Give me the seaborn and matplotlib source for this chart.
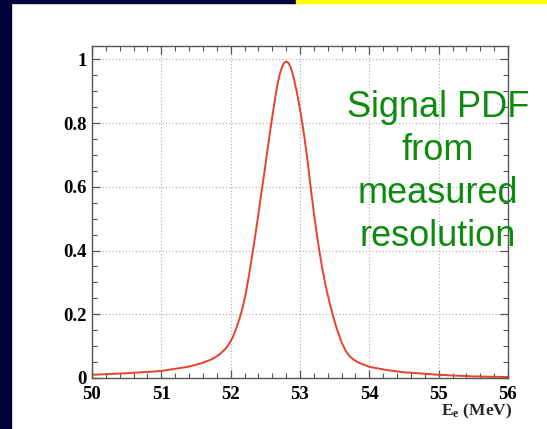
import matplotlib
matplotlib.use("Agg")
import matplotlib.pyplot as plt
from matplotlib.patches import Rectangle
from matplotlib.ticker import MultipleLocator
import seaborn as sns
import pandas as pd

# Signal PDF of the positron energy, normalised to its peak
energy_mev = [50.0, 50.5, 51.0, 51.38, 51.56, 51.72, 51.80, 51.87, 51.93, 51.98,
              52.03, 52.08, 52.14, 52.18, 52.22, 52.27, 52.31, 52.35, 52.38, 52.42,
              52.45, 52.49, 52.52, 52.56, 52.59, 52.62, 52.65, 52.68, 52.71, 52.74,
              52.77, 52.80, 52.83, 52.86, 52.89, 52.92, 52.95, 52.98, 53.01, 53.04,
              53.07, 53.11, 53.15, 53.18, 53.21, 53.25, 53.28, 53.32, 53.37, 53.42,
              53.47, 53.53, 53.60, 53.66, 53.72, 53.79, 53.87, 54.0, 54.25, 54.5,
              55.0, 55.5, 56.0]
pdf_value = [0.010, 0.015, 0.022, 0.035, 0.045, 0.058, 0.068, 0.080, 0.093, 0.108,
             0.128, 0.155, 0.195, 0.228, 0.268, 0.330, 0.385, 0.440, 0.485, 0.545,
             0.592, 0.650, 0.700, 0.760, 0.805, 0.848, 0.890, 0.926, 0.955, 0.976,
             0.989, 0.993, 0.990, 0.978, 0.958, 0.932, 0.902, 0.868, 0.830, 0.790,
             0.745, 0.680, 0.605, 0.553, 0.500, 0.440, 0.398, 0.345, 0.290, 0.242,
             0.200, 0.155, 0.112, 0.085, 0.067, 0.055, 0.046, 0.035, 0.025, 0.018,
             0.010, 0.005, 0.003]

x_ticks = [50, 51, 52, 53, 54, 55, 56]
x_tick_labels = ["50", "51", "52", "53", "54", "55", "56"]
y_ticks = [0, 0.2, 0.4, 0.6, 0.8, 1.0]
y_tick_labels = ["0", "0.2", "0.4", "0.6", "0.8", "1"]

note_text = "Signal PDF\nfrom\nmeasured\nresolution"
x_label = r"$\mathbf{E_e}$ (MeV)"

df = pd.DataFrame({"E": energy_mev, "pdf": pdf_value})

sns.set_theme(style="white")
plt.rcParams["font.family"] = ["Liberation Serif", "DejaVu Serif"]
plt.rcParams["mathtext.fontset"] = "custom"
plt.rcParams["mathtext.bf"] = "Liberation Serif:bold"
plt.rcParams["mathtext.rm"] = "Liberation Serif:bold"

fig = plt.figure(figsize=(5.47, 4.29), dpi=100, facecolor="white")

# slide frame: navy bars on the left and top, yellow accent at top right
navy = "#01013a"
fig.patches.append(Rectangle((0, 0), 11 / 547, 1, transform=fig.transFigure,
                             color=navy, zorder=0))
fig.patches.append(Rectangle((0, 1 - 3 / 429), 296 / 547, 3 / 429,
                             transform=fig.transFigure, color=navy, zorder=0))
fig.patches.append(Rectangle((296 / 547, 1 - 3 / 429), 1 - 296 / 547, 3 / 429,
                             transform=fig.transFigure, color="#ffff00", zorder=0))

ax = fig.add_axes([92 / 547, 1 - 378 / 429, 416 / 547, 332 / 429])
ax.set_facecolor("white")

sns.lineplot(data=df, x="E", y="pdf", ax=ax, color="#e8412c", linewidth=1.4)

ax.set_xlim(50, 56)
ax.set_ylim(0, 1.042)
ax.set_xticks(x_ticks)
ax.set_xticklabels(x_tick_labels)
ax.set_yticks(y_ticks)
ax.set_yticklabels(y_tick_labels)
ax.xaxis.set_minor_locator(MultipleLocator(0.2))
ax.yaxis.set_minor_locator(MultipleLocator(0.05))

ax.grid(True, which="major", color="#a8a8a8", linestyle=(0, (1, 2)), linewidth=0.8)

for side in ["left", "right", "top", "bottom"]:
    ax.spines[side].set_visible(True)
    ax.spines[side].set_color("#555555")
    ax.spines[side].set_linewidth(1.0)

ax.tick_params(which="both", direction="in", top=True, right=True,
               bottom=True, left=True, color="#555555")
ax.tick_params(which="major", length=6, width=0.9)
ax.tick_params(axis="y", which="major", pad=4)
ax.tick_params(axis="x", which="major", pad=5.5)
ax.tick_params(which="minor", length=3.5, width=0.8)
for lab in ax.get_xticklabels() + ax.get_yticklabels():
    lab.set_fontsize(13.5)
    lab.set_fontweight("bold")
    lab.set_color("black")

ax.set_ylabel("")
ax.set_xlabel(x_label, fontsize=12.5, fontweight="bold", ha="right", va="top")
ax.xaxis.set_label_coords(1.01, -0.073)

fig.text(438 / 547, 1 - 90 / 429, note_text, color="#0e8a0e", fontsize=26,
         family=["Liberation Sans", "DejaVu Sans"], ha="center", va="top",
         multialignment="center", linespacing=1.3)

fig.savefig("out.png", dpi=100, facecolor="white")
